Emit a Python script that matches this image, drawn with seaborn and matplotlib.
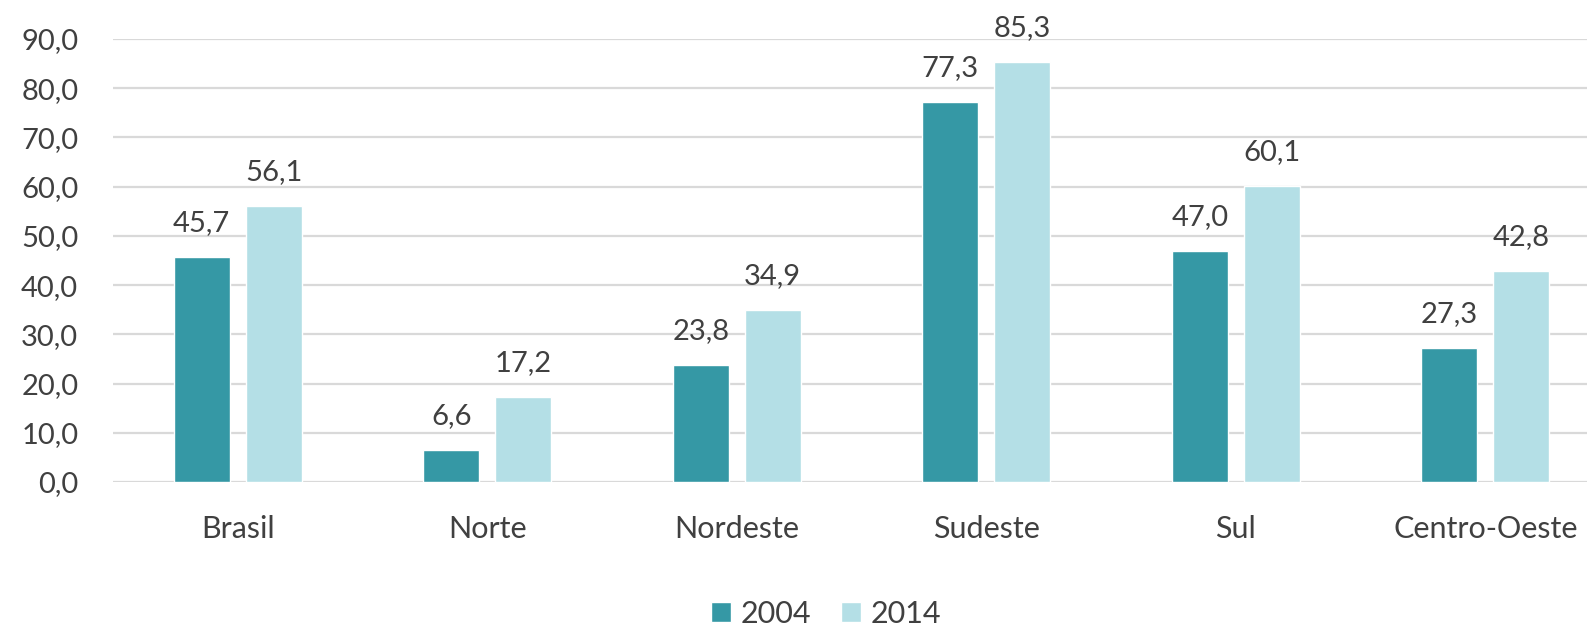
import numpy as np
import pandas as pd
import matplotlib
matplotlib.use("Agg")
import matplotlib.pyplot as plt
import seaborn as sns

# Data
regions = ["Brasil", "Norte", "Nordeste", "Sudeste", "Sul", "Centro-Oeste"]
years = ["2004", "2014"]
values_2004 = [45.7, 6.6, 23.8, 77.3, 47.0, 27.3]
values_2014 = [56.1, 17.2, 34.9, 85.3, 60.1, 42.8]
yticks = [0, 10, 20, 30, 40, 50, 60, 70, 80, 90]

colors = ["#3598A5", "#B4DFE6"]
text_color = "#404040"
fs_num = 21
fs_cat = 22

df = pd.DataFrame({
    "Região": regions * 2,
    "Ano": [years[0]] * len(regions) + [years[1]] * len(regions),
    "Valor": values_2004 + values_2014,
})

sns.set_theme(style="white")
plt.rcParams["font.family"] = ["Lato", "DejaVu Sans"]

fig = plt.figure(figsize=(15.87, 6.33), dpi=100)
ax = fig.add_axes([0.0712, 0.2385, 0.9433, 0.6999])

sns.barplot(data=df, x="Região", y="Valor", hue="Ano", order=regions,
            hue_order=years, palette=colors, width=0.577, gap=0.222,
            saturation=1, ax=ax, legend=True, errorbar=None)

for cont in ax.containers:
    ax.bar_label(cont, labels=[f"{v:.1f}".replace(".", ",") for v in cont.datavalues],
                 padding=15, fontsize=fs_num, color=text_color)

ax.set_xlim(-0.5, 5.5)
ax.set_ylim(0, 90)
ax.set_yticks(yticks)
ax.set_yticklabels([f"{v:.1f}".replace(".", ",") for v in yticks])
ax.yaxis.grid(True, color="#D9D9D9", linewidth=1.6)
ax.set_axisbelow(True)
for s in ax.spines.values():
    s.set_visible(False)
ax.tick_params(axis="both", length=0, colors=text_color)
ax.tick_params(axis="x", pad=24, labelsize=fs_cat)
ax.tick_params(axis="y", pad=25, labelsize=fs_num)
ax.set_xlabel("")
ax.set_ylabel("")

handles, labels = ax.get_legend_handles_labels()
ax.legend(handles, labels, loc="center", bbox_to_anchor=(826 / 1587, 1 - 614 / 633),
          bbox_transform=fig.transFigure, ncol=2, frameon=False, fontsize=fs_cat,
          handlelength=0.65, handleheight=0.65, handletextpad=0.3, columnspacing=1.0,
          labelcolor=text_color)

plt.savefig("out.png", dpi=100)
